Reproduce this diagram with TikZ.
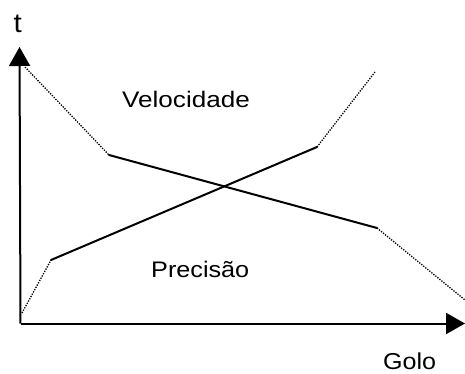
\documentclass[tikz,border=0pt]{standalone}
\usepackage{fontspec}
\setmainfont{Liberation Sans}
\usetikzlibrary{arrows.meta}
\tikzset{
  axis/.style={line width=2pt, -{Triangle[length=19pt,width=21pt]}},
  curve/.style={line width=2pt, line cap=round, line join=round},
  dotline/.style={line width=1.3pt, dash pattern=on 1.3pt off 1.3pt},
  lbl/.style={inner sep=0pt, anchor=base west, text=black}
}
\begin{document}
\begin{tikzpicture}[x=1pt,y=-1pt]
\useasboundingbox (0,0) rectangle (465,374);
% axes
\coordinate (O) at (20.5,323.5);
\coordinate (Ytip) at (19.5,47);
\coordinate (Xtip) at (465,323.5);
\draw[axis] (O) -- (Ytip);
\draw[axis] (O) -- (Xtip);
% Velocidade curve
\coordinate (V0) at (25,67);
\coordinate (V1) at (109,155);
\coordinate (V2) at (377,228);
\coordinate (V3) at (465,300);
\draw[dotline] (V0) -- (V1);
\draw[curve] (V1) -- (V2);
\draw[dotline] (V2) -- (V3);
% Precisao curve
\coordinate (P0) at (22,313);
\coordinate (P1) at (51,260);
\coordinate (P2) at (317,147);
\coordinate (P3) at (375,72);
\draw[dotline] (P0) -- (P1);
\draw[curve] (P1) -- (P2);
\draw[dotline] (P2) -- (P3);
% labels
\node[lbl] (t) at (13.5,33) {\scalebox{1.1}[1]{\fontsize{27}{30}\selectfont t}};
\node[lbl] (vel) at (122,108) {\scalebox{1.16}[1]{\fontsize{22.5}{26}\selectfont Velocidade}};
\node[lbl] (prec) at (151,277.5) {\scalebox{1.12}[1]{\fontsize{22.5}{26}\selectfont Precisão}};
\node[lbl] (golo) at (383,369.5) {\scalebox{1.09}[1]{\fontsize{23}{27}\selectfont Golo}};
\end{tikzpicture}
\end{document}
